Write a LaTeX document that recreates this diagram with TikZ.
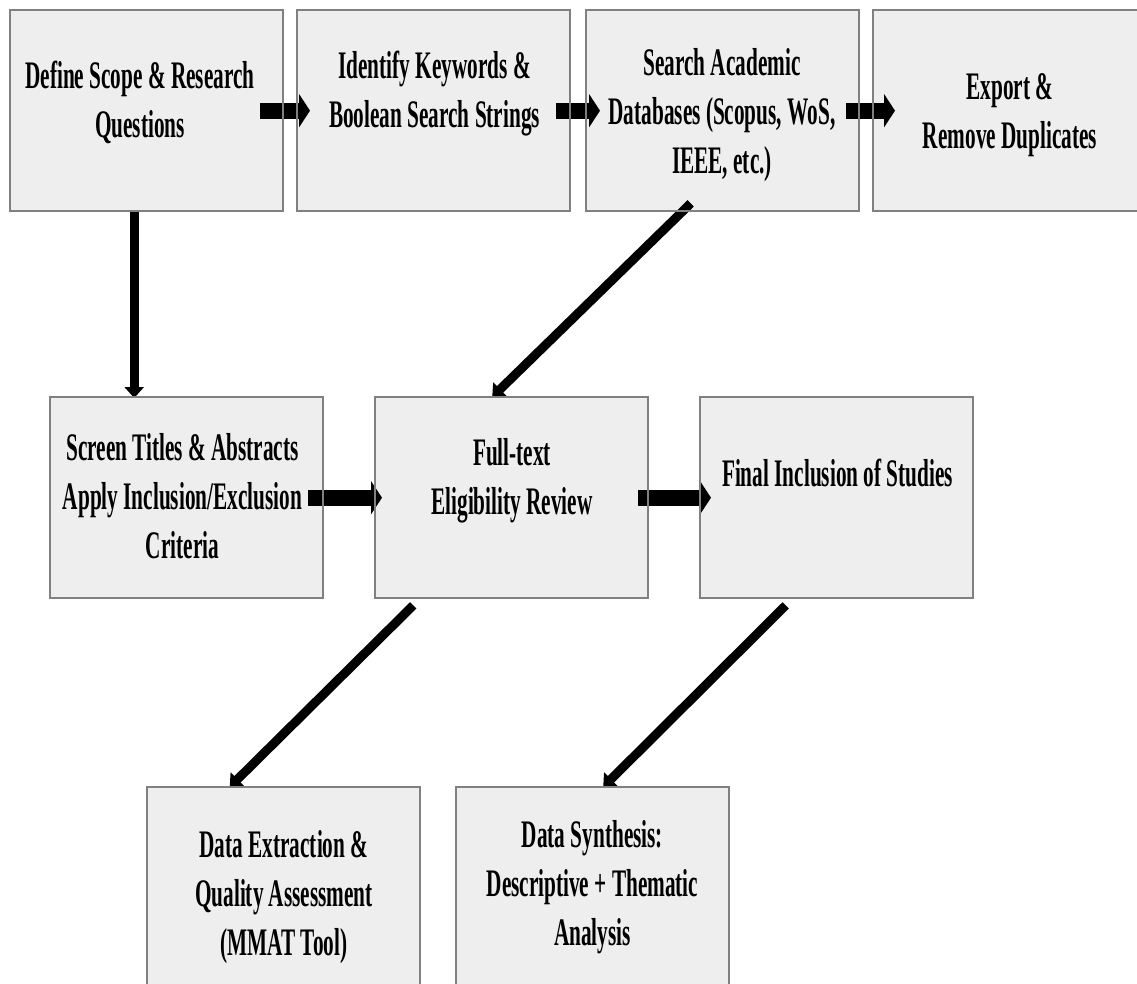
\documentclass[tikz,border=0pt]{standalone}
\usepackage{fontspec}
\setmainfont{Liberation Serif}[FakeStretch=0.545]
\usetikzlibrary{arrows.meta,calc}
\definecolor{boxgray}{HTML}{EEEEEE}
\definecolor{bordergray}{HTML}{808080}
\begin{document}
\begin{tikzpicture}[x=1pt,y=-1pt,
  boxfill/.style={fill=boxgray, draw=none, minimum width=273pt, minimum height=201pt, inner sep=0pt, anchor=north west},
  boxline/.style={draw=bordergray, line width=2pt},
  txt/.style={align=center, font=\bfseries\fontsize{39}{49}\selectfont, inner sep=0pt},
  harrow/.style={line width=16pt, -{Triangle[length=11pt,width=33pt]}},
  darrow/.style={line width=9pt, -{Triangle[length=11pt,width=19pt]}}]
\useasboundingbox (0,0) rectangle (1137,983);
% box fills
\node[boxfill] (b1) at (10,10) {};
\node[boxfill] (b2) at (297,10) {};
\node[boxfill] (b3) at (586,10) {};
\node[boxfill] (b4) at (873,10) {};
\node[boxfill] (b5) at (50,397) {};
\node[boxfill] (b6) at (375,397) {};
\node[boxfill] (b7) at (700,397) {};
\node[boxfill] (b8) at (147,787) {};
\node[boxfill] (b9) at (456,787) {};
% arrows
\draw[harrow] ([xshift=-23pt]b1.east) -- ([xshift=13pt]b2.west);
\draw[harrow] ([xshift=-14pt]b2.east) -- ([xshift=14pt]b3.west);
\draw[harrow] ([xshift=-13pt]b3.east) -- ([xshift=22pt]b4.west);
\draw[harrow] ([xshift=-15pt]b5.east) -- ([xshift=7pt]b6.west);
\draw[harrow] ([xshift=-10pt]b6.east) -- ([xshift=11pt]b7.west);
\draw[darrow] ([xshift=-12.5pt]b1.south) -- ([xshift=-12.5pt,yshift=-1pt]b1.south |- b5.north);
\draw[darrow] ([xshift=-32pt,yshift=8pt]b3.south) -- ([xshift=-19.5pt]b6.north);
\draw[darrow] ([xshift=-98.5pt,yshift=-7pt]b6.south) -- ([xshift=-54pt]b8.north);
\draw[darrow] ([xshift=-51pt,yshift=-7pt]b7.south) -- ([xshift=10.5pt]b9.north);
% box borders
\foreach \b in {b1,b2,b3,b4,b5,b6,b7,b8,b9}
  \draw[boxline] (\b.south west) rectangle (\b.north east);
% texts
\node[txt] (t1) at (140,102.5) {Define Scope \& Research\\Questions};
\node[txt] (t2) at (434.5,94) {Identify Keywords \&\\Boolean Search Strings};
\node[txt] (t3) at (722,115) {Search Academic\\Databases (Scopus, WoS,\\IEEE, etc.)};
\node[txt] (t4) at (1010,115) {Export \&\\Remove Duplicates};
\node[txt] (t5) at (182.5,496) {Screen Titles \& Abstracts\\Apply Inclusion/Exclusion\\Criteria};
\node[txt] (t6) at (512,481) {Full-text\\Eligibility Review};
\node[txt] (t7) at (837.5,473) {Final Inclusion of Studies};
\node[txt] (t8) at (284,897) {Data Extraction \&\\Quality Assessment\\(MMAT Tool)};
\node[txt] (t9) at (592.5,887) {Data Synthesis:\\Descriptive + Thematic\\Analysis};
\end{tikzpicture}
\end{document}
